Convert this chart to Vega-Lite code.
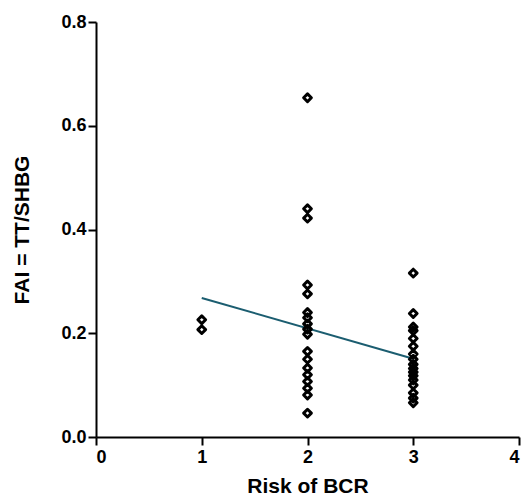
{
  "$schema": "https://vega.github.io/schema/vega-lite/v6.json",
  "width": 423,
  "height": 415,
  "autosize": "none",
  "padding": {"left": 96, "top": 22, "right": 7, "bottom": 60},
  "background": "white",
  "config": {
    "view": {"stroke": null},
    "font": "Liberation Sans",
    "axis": {
      "domainColor": "black", "domainWidth": 2, "tickColor": "black", "tickWidth": 2, "tickSize": 8,
      "labelFont": "Liberation Sans", "labelFontWeight": "bold", "labelFontSize": 18, "labelColor": "black",
      "titleFont": "Liberation Sans", "titleFontWeight": "bold", "titleFontSize": 21, "titleColor": "black",
      "grid": false
    }
  },
  "datasets": {
    "pts": [
      {"risk": 1, "fai": 0.226}, {"risk": 1, "fai": 0.207},
      {"risk": 2, "fai": 0.654}, {"risk": 2, "fai": 0.44}, {"risk": 2, "fai": 0.422},
      {"risk": 2, "fai": 0.293}, {"risk": 2, "fai": 0.276}, {"risk": 2, "fai": 0.24},
      {"risk": 2, "fai": 0.23}, {"risk": 2, "fai": 0.218}, {"risk": 2, "fai": 0.208},
      {"risk": 2, "fai": 0.198}, {"risk": 2, "fai": 0.165}, {"risk": 2, "fai": 0.15},
      {"risk": 2, "fai": 0.133}, {"risk": 2, "fai": 0.12}, {"risk": 2, "fai": 0.107},
      {"risk": 2, "fai": 0.094}, {"risk": 2, "fai": 0.081}, {"risk": 2, "fai": 0.046},
      {"risk": 3, "fai": 0.316}, {"risk": 3, "fai": 0.238}, {"risk": 3, "fai": 0.212},
      {"risk": 3, "fai": 0.205}, {"risk": 3, "fai": 0.19}, {"risk": 3, "fai": 0.175},
      {"risk": 3, "fai": 0.16}, {"risk": 3, "fai": 0.15}, {"risk": 3, "fai": 0.14},
      {"risk": 3, "fai": 0.132}, {"risk": 3, "fai": 0.125}, {"risk": 3, "fai": 0.118},
      {"risk": 3, "fai": 0.11}, {"risk": 3, "fai": 0.1}, {"risk": 3, "fai": 0.085},
      {"risk": 3, "fai": 0.075}, {"risk": 3, "fai": 0.066}
    ],
    "fit": [
      {"risk": 1, "fai": 0.268},
      {"risk": 3, "fai": 0.151}
    ]
  },
  "layer": [
    {
      "data": {"name": "fit"},
      "mark": {"type": "line", "color": "#1b5d70", "strokeWidth": 2},
      "encoding": {
        "x": {"field": "risk", "type": "quantitative"},
        "y": {"field": "fai", "type": "quantitative"}
      }
    },
    {
      "data": {"name": "pts"},
      "mark": {"type": "point", "shape": "diamond", "filled": false, "stroke": "black", "strokeWidth": 3, "size": 60, "opacity": 1, "strokeJoin": "round"},
      "encoding": {
        "x": {
          "field": "risk", "type": "quantitative",
          "scale": {"domain": [0, 4], "nice": false, "zero": false},
          "axis": {"values": [0, 1, 2, 3, 4], "format": "d", "title": "Risk of BCR", "labelPadding": 3,
                   "titleX": 211.5, "titleY": 55, "titleBaseline": "alphabetic", "titleAnchor": "middle"}
        },
        "y": {
          "field": "fai", "type": "quantitative",
          "scale": {"domain": [0, 0.8], "nice": false},
          "axis": {"values": [0, 0.2, 0.4, 0.6, 0.8], "format": ".1f", "title": "FAI = TT/SHBG", "labelPadding": 2,
                   "titleX": -68, "titleY": 207.5, "titleAngle": 270, "titleBaseline": "alphabetic", "titleAlign": "center"}
        }
      }
    }
  ]
}
